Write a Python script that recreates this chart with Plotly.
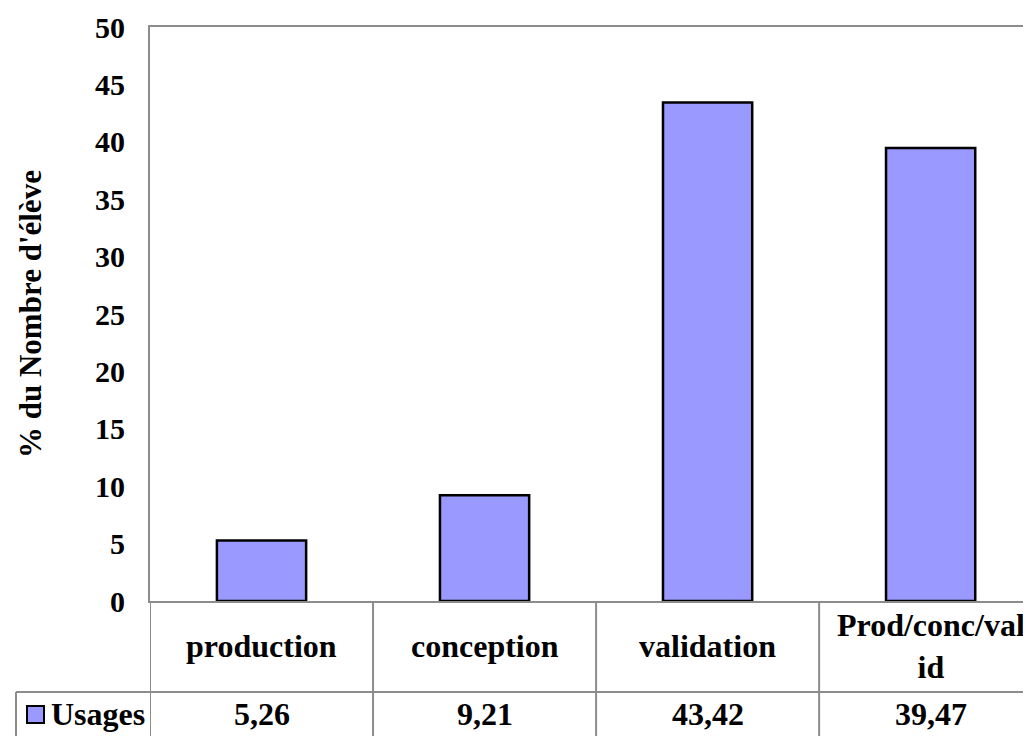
import plotly.graph_objects as go

categories = ["production", "conception", "validation", "Prod/conc/val<br>id"]
values = [5.26, 9.21, 43.42, 39.47]
value_labels = ["5,26", "9,21", "43,42", "39,47"]
series_name = "Usages"
y_ticks = [0, 5, 10, 15, 20, 25, 30, 35, 40, 45, 50]

FONT = "Liberation Serif"
GRID = "#8c8c8c"

OFF = 8  # page body margin
W, H = 1031 - OFF, 736 - OFF
# plot area in page pixels: left 150, top 27, bottom 601, right 1031
ml, mr, mt, mb = 150 - OFF, 0, 27 - OFF, 736 - 601
plot_h = H - mt - mb
plot_w = W - ml - mr

def py(ypix):
    return (601 - ypix) / plot_h

def px(xpix):
    return (xpix - 150) / plot_w

x_idx = list(range(len(categories)))

fig = go.Figure()
fig.add_trace(go.Bar(
    x=x_idx, y=values, width=0.4,
    marker=dict(color="#9999FF", line=dict(color="black", width=2.5)),
    showlegend=False,
))

fig.update_layout(
    width=W, height=H,
    margin=dict(l=ml, r=mr, t=mt, b=mb),
    plot_bgcolor="white", paper_bgcolor="white",
    font=dict(family=FONT, size=32, color="black", weight="bold"),
    xaxis=dict(range=[-0.5, 3.45], showticklabels=False, ticks="",
               showgrid=False, zeroline=False, showline=True,
               linecolor=GRID, linewidth=2, mirror=True),
    yaxis=dict(range=[0, 50], tickvals=y_ticks, ticks="", showgrid=False,
               zeroline=False, showline=True, linecolor=GRID, linewidth=2,
               ticklabelstandoff=17,
               tickfont=dict(family=FONT, size=30, color="black", weight="bold")),
)

shapes = []
for b in [-0.5, 0.5, 1.5, 2.5, 3.5]:
    shapes.append(dict(type="line", xref="x", yref="paper", x0=b, x1=b,
                       y0=0, y1=py(740), line=dict(color=GRID, width=2)))
shapes.append(dict(type="line", xref="paper", yref="paper",
                   x0=px(16), x1=1.0, y0=py(692), y1=py(692),
                   line=dict(color=GRID, width=2)))
shapes.append(dict(type="line", xref="paper", yref="paper",
                   x0=px(16), x1=px(16), y0=py(692), y1=py(740),
                   line=dict(color=GRID, width=2)))
shapes.append(dict(type="rect", xref="paper", yref="paper",
                   x0=px(27), x1=px(44), y0=py(723), y1=py(706),
                   fillcolor="#9999FF", line=dict(color="black", width=2)))

annotations = []
for i, c in enumerate(categories):
    annotations.append(dict(x=i, y=py(646), xref="x", yref="paper", text=c,
                            showarrow=False, xanchor="center", yanchor="middle",
                            font=dict(family=FONT, size=32, weight="bold")))
    annotations.append(dict(x=i, y=py(714), xref="x", yref="paper",
                            text=value_labels[i], showarrow=False,
                            xanchor="center", yanchor="middle",
                            font=dict(family=FONT, size=32, weight="bold")))
annotations.append(dict(x=px(49), y=py(714), xref="paper", yref="paper",
                        text=series_name, showarrow=False,
                        xanchor="left", yanchor="middle",
                        font=dict(family=FONT, size=32, weight="bold")))
annotations.append(dict(x=px(30), y=0.5, xref="paper", yref="paper",
                        text="% du Nombre d'élève", textangle=-90,
                        showarrow=False, xanchor="center", yanchor="middle",
                        font=dict(family=FONT, size=31, weight="bold")))

fig.update_layout(shapes=shapes, annotations=annotations)
fig.write_html("out.html")
